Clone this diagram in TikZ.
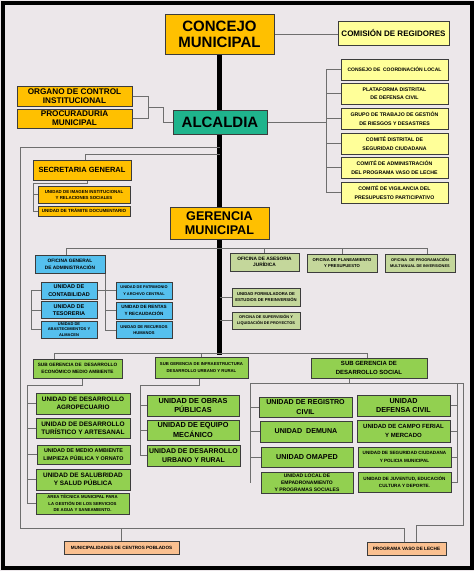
\documentclass[tikz,border=0pt]{standalone}
\usepackage{fontspec}
\setmainfont{Liberation Sans}
\usetikzlibrary{backgrounds}

\definecolor{bgpaper}{HTML}{ECE7EA}
\definecolor{boxline}{HTML}{3C3C3C}
\definecolor{linkgray}{HTML}{6E6E6E}
\definecolor{gold}{HTML}{FFC000}
\definecolor{paleyellow}{HTML}{FFFF99}
\definecolor{teal}{HTML}{1FB48C}
\definecolor{sky}{HTML}{55C0EE}
\definecolor{olive}{HTML}{C4D79B}
\definecolor{lime}{HTML}{92D050}
\definecolor{peach}{HTML}{FAC090}

\tikzset{
	box/.style={draw=boxline, line width=0.9pt, inner sep=0pt, align=center},
	wh/.style 2 args={minimum width=#1pt, minimum height=#2pt},
	sz/.style 2 args={font=\fontsize{#1}{#2}\selectfont\bfseries},
	link/.style={draw=linkgray, line width=0.8pt},
	spine/.style={draw=black, line width=4.3pt},
}

\begin{document}
\begin{tikzpicture}[x=1pt, y=-1pt]
	\useasboundingbox (0,0) rectangle (474,571);

	\node[box, fill=gold, wh={109}{40}, sz={15}{16}]		(concejo) at (219.5,34) {CONCEJO\\MUNICIPAL};
	\node[box, fill=paleyellow, wh={111}{24}, sz={8}{9}]	(comision) at (393.5,33) {COMISIÓN DE REGIDORES};

	\node[box, fill=paleyellow, wh={107}{21}, sz={5}{8}]		(coordlocal) at (394.5,69.5) {CONSEJO DE \ COORDINACIÓN LOCAL};
	\node[box, fill=paleyellow, wh={107}{21}, sz={5.2}{8.5}]	(plataforma) at (394.5,93.5) {PLATAFORMA DISTRITAL\\DE DEFENSA CIVIL};
	\node[box, fill=paleyellow, wh={107}{21}, sz={5.2}{8.5}]	(riesgos) at (394.5,118.5) {GRUPO DE TRABAJO DE GESTIÓN\\DE RIESGOS Y DESASTRES};
	\node[box, fill=paleyellow, wh={107}{21}, sz={5.2}{8.5}]	(comiteseg) at (394.5,143.5) {COMITÉ DISTRITAL DE\\SEGURIDAD CIUDADANA};
	\node[box, fill=paleyellow, wh={107}{21}, sz={5.2}{8.5}]	(comitevaso) at (394.5,167.5) {COMITÉ DE ADMINISTRACIÓN\\DEL PROGRAMA VASO DE LECHE};
	\node[box, fill=paleyellow, wh={107}{21}, sz={5.2}{8.5}]	(vigilancia) at (394.5,192.5) {COMITÉ DE VIGILANCIA DEL\\PRESUPUESTO PARTICIPATIVO};

	\node[box, fill=teal, wh={94}{24}, sz={15}{16}]		(alcaldia) at (220,122) {ALCALDIA};
	\node[box, fill=gold, wh={115}{20}, sz={8.2}{9}]		(organo) at (74.5,96) {ORGANO DE CONTROL\\INSTITUCIONAL};
	\node[box, fill=gold, wh={115}{19}, sz={8.2}{9}]		(procurad) at (74.5,118.5) {PROCURADURIA\\MUNICIPAL};

	\node[box, fill=gold, wh={98}{20}, sz={7.5}{8}]		(secretaria) at (82,170) {SECRETARIA GENERAL};
	\node[box, fill=gold, wh={92}{17}, sz={4.4}{6}]		(imagen) at (84,194.5) {UNIDAD DE IMAGEN INSTITUCIONAL\\Y RELACIONES SOCIALES};
	\node[box, fill=gold, wh={92}{10}, sz={4.5}{5}]		(tramite) at (84,211) {UNIDAD DE TRÁMITE DOCUMENTARIO};

	\node[box, fill=gold, wh={99}{32}, sz={12.6}{14}]		(gerencia) at (219.5,223) {GERENCIA\\MUNICIPAL};
	\node[box, fill=sky, wh={70}{18}, sz={4.8}{6.8}]		(ofadmin) at (70,264) {OFICINA GENERAL\\DE ADMINISTRACIÓN};
	\node[box, fill=olive, wh={69}{18}, sz={4.8}{6.5}]		(asesoria) at (264.5,262) {OFICINA DE ASESORIA\\JURÍDICA};
	\node[box, fill=olive, wh={70}{18}, sz={4.2}{6.5}]		(planeam) at (342,263) {OFICINA DE PLANEAMIENTO\\Y PRESUPUESTO};
	\node[box, fill=olive, wh={70}{18}, sz={3.9}{6}]		(pmi) at (420,263) {OFICINA \ DE PROGRAMACIÓN\\MULTIANUAL DE INVERSIONES};

	\node[box, fill=sky, wh={56}{17}, sz={5.5}{7.5}]		(contab) at (69,290.5) {UNIDAD DE\\CONTABILIDAD};
	\node[box, fill=sky, wh={56}{17}, sz={5.5}{7.5}]		(tesoreria) at (69,310) {UNIDAD DE\\TESORERIA};
	\node[box, fill=sky, wh={56}{17}, sz={4}{5.6}]		(abastec) at (69,329.5) {UNIDAD DE\\ABASTECIMIENTOS Y\\ALMACEN};
	\node[box, fill=sky, wh={56}{17}, sz={3.9}{6.5}]		(patrimonio) at (144,290.5) {UNIDAD DE PATRIMONIO\\Y ARCHIVO CENTRAL};
	\node[box, fill=sky, wh={56}{17}, sz={4.6}{6.8}]		(rentas) at (144,310.5) {UNIDAD DE RENTAS\\Y RECAUDACIÓN};
	\node[box, fill=sky, wh={56}{17}, sz={4.1}{6.5}]		(rrhh) at (144,330) {UNIDAD DE RECURSOS\\HUMANOS};

	\node[box, fill=olive, wh={68}{18}, sz={4.2}{6}]		(formuladora) at (266,297) {UNIDAD FORMULADORA DE\\ESTUDIOS DE PREINVERSIÓN};
	\node[box, fill=olive, wh={68}{17}, sz={3.9}{6}]		(supervision) at (266,320.5) {OFICINA DE SUPERVISIÓN Y\\LIQUIDACIÓN DE PROYECTOS};

	\node[box, fill=lime, wh={89}{19}, sz={4.7}{7.5}]		(sgeco) at (77.5,368.5) {SUB GERENCIA DE \ DESARROLLO\\ECONÓMICO MEDIO AMBIENTE};
	\node[box, fill=lime, wh={93}{21}, sz={4.25}{6.8}]		(sginfra) at (201.5,367.5) {SUB GERENCIA DE INFRAESTRUCTURA\\DESARROLLO URBANO Y RURAL};
	\node[box, fill=lime, wh={116}{20}, sz={6}{9}]		(sgsocial) at (369,368) {SUB GERENCIA DE\\DESARROLLO SOCIAL};

	\node[box, fill=lime, wh={94}{21}, sz={6.4}{8.3}]		(agropec) at (83,403.5) {UNIDAD DE DESARROLLO\\AGROPECUARIO};
	\node[box, fill=lime, wh={94}{20}, sz={6.5}{8.3}]		(turismo) at (83,428) {UNIDAD DE DESARROLLO\\TURÍSTICO Y ARTESANAL};
	\node[box, fill=lime, wh={93}{19}, sz={5.4}{8.3}]		(medioamb) at (83.5,454.5) {UNIDAD DE MEDIO AMBIENTE\\LIMPIEZA PÚBLICA Y ORNATO};
	\node[box, fill=lime, wh={94}{21}, sz={6.4}{8.5}]		(salubridad) at (83,479.5) {UNIDAD DE SALUBRIDAD\\Y SALUD PÚBLICA};
	\node[box, fill=lime, wh={93}{21}, sz={4.3}{6.6}]		(aguasan) at (82.5,503.5) {AREA TÉCNICA MUNICIPAL PARA\\LA GESTIÓN DE LOS SERVICIOS\\DE AGUA Y SANEAMIENTO.};

	\node[box, fill=lime, wh={92}{21}, sz={7.3}{9.3}]		(obras) at (193,405.5) {UNIDAD DE OBRAS\\PÚBLICAS};
	\node[box, fill=lime, wh={92}{20}, sz={7.3}{9.3}]		(equipo) at (193,430) {UNIDAD DE EQUIPO\\MECÁNICO};
	\node[box, fill=lime, wh={93}{21}, sz={6.9}{9.3}]		(urbrural) at (193.5,455.5) {UNIDAD DE DESARROLLO\\URBANO Y RURAL};

	\node[box, fill=lime, wh={93}{20}, sz={7.1}{9.3}]		(registro) at (305.5,407) {UNIDAD DE REGISTRO\\CIVIL};
	\node[box, fill=lime, wh={92}{21}, sz={7.1}{9}]		(demuna) at (306,431.5) {UNIDAD \ DEMUNA};
	\node[box, fill=lime, wh={92}{20}, sz={7.2}{9}]		(omaped) at (307,457) {UNIDAD OMAPED};
	\node[box, fill=lime, wh={92}{21}, sz={5}{6.8}]		(empadron) at (307,482.5) {UNIDAD LOCAL DE\\EMPADRONAMIENTO\\Y PROGRAMAS SOCIALES};
	\node[box, fill=lime, wh={93}{21}, sz={7.2}{9.3}]		(defcivil) at (403.5,405.5) {UNIDAD\\DEFENSA CIVIL};
	\node[box, fill=lime, wh={93}{22}, sz={6}{8.5}]		(campoferial) at (403.5,431) {UNIDAD DE CAMPO FERIAL\\Y MERCADO};
	\node[box, fill=lime, wh={93}{20}, sz={4.6}{7.7}]		(segciud) at (404.5,457) {UNIDAD DE SEGURIDAD CIUDADANA\\Y POLICIA MUNICIPAL};
	\node[box, fill=lime, wh={93}{20}, sz={4.6}{7.5}]		(juventud) at (404.5,482) {UNIDAD DE JUVENTUD, EDUCACIÓN\\CULTURA Y DEPORTE.};

	\node[box, fill=peach, wh={115}{13}, sz={4.6}{5}]		(ccpp) at (121.5,547.5) {MUNICIPALIDADES DE CENTROS POBLADOS};
	\node[box, fill=peach, wh={79}{13}, sz={4.7}{5}]		(vasoleche) at (406.5,548.5) {PROGRAMA VASO DE LECHE};

	\coordinate (obus) at (148,107);
	\coordinate (cbus) at (326,122);
	\coordinate (ftl) at (20,147);
	\coordinate (fbl) at (20,528);
	\coordinate (fbr) at (404,528);
	\coordinate (sectop) at (85,154);
	\coordinate (secbus) at (33,183);
	\coordinate (gl) at (66,248);
	\coordinate (gr) at (427,248);
	\coordinate (abus) at (31,290.5);
	\coordinate (sgl) at (54,353);
	\coordinate (sgr) at (367,353);
	\coordinate (spinebot) at (219.5,355);
	\coordinate (ebus) at (27,385);
	\coordinate (ibus) at (140,385);
	\coordinate (sbus) at (250,383);
	\coordinate (rbus) at (457,383);
	\coordinate (obr) at (463,383);
	\coordinate (obb) at (416,525);

	\begin{pgfonlayer}{background}
		\fill[bgpaper] (0,0) rectangle (474,571);
		\draw[line width=4pt] (2.5,3) rectangle (471.5,567.5);

		\draw[spine] (concejo.south) -- (spinebot);

		\draw[link] (concejo.east) -- (concejo.east -| comision.west);
		\draw[link] (alcaldia.east) -- (cbus);
		\draw[link] (cbus |- coordlocal.west) -- (cbus |- vigilancia.west);
		\foreach \n in {coordlocal,plataforma,riesgos,comiteseg,comitevaso,vigilancia}
			\draw[link] (cbus |- \n.west) -- (\n.west);

		\draw[link] (organo.east) -| (obus);
		\draw[link] (procurad.east) -| (obus);
		\draw[link] (obus) -- (163,107) |- (alcaldia.west);

		\draw[link] (ftl -| concejo.south) -- (ftl) -- (fbl) -- (fbr) -- (fbr |- vasoleche.north);
		\draw[link] (ccpp.north) -- (ccpp.north |- fbl);

		\draw[link] (sectop -| concejo.south) -- (sectop) -- (sectop |- secretaria.north);
		\draw[link] ([xshift=5pt]secretaria.south) |- (secbus) -- (secbus |- tramite.west) -- (tramite.west);
		\draw[link] (secbus |- imagen.west) -- (imagen.west);

		\draw[link] (gl |- ofadmin.north) -- (gl) -- (gr) -- (gr |- pmi.north);
		\foreach \n in {asesoria,planeam}
			\draw[link] (\n.north) -- (\n.north |- gl);

		\draw[link] (ofadmin.south east) -- (ofadmin.south east |- rrhh.west) -- (rrhh.west);
		\foreach \n in {patrimonio,rentas}
			\draw[link] (ofadmin.south east |- \n.west) -- (\n.west);
		\draw[link] (abus) -- (patrimonio.west);
		\draw[link] (abus) -- (abus |- abastec.west) -- (abastec.west);
		\draw[link] (abus |- tesoreria.west) -- (tesoreria.west);

		\foreach \n in {formuladora,supervision}
			\draw[link] (\n.west -| concejo.south) -- (\n.west);

		\draw[link] (sgl |- sgeco.north) -- (sgl) -- (sgr) -- (sgr |- sgsocial.north);
		\draw[link] (sginfra.north) -- (sginfra.north |- sgl);

		\draw[link] ([xshift=4.5pt]sgeco.south) |- (ebus) -- (ebus |- aguasan.west) -- (aguasan.west);
		\foreach \n in {agropec,turismo,medioamb,salubridad}
			\draw[link] (ebus |- \n.west) -- (\n.west);

		\draw[link] ([xshift=-2pt]sginfra.south) |- (ibus) -- (ibus |- urbrural.west) -- (urbrural.west);
		\foreach \n in {obras,equipo}
			\draw[link] (ibus |- \n.west) -- (\n.west);

		\draw[link] ([xshift=-20pt]sgsocial.south) -- ([xshift=-20pt]sgsocial.south |- sbus);
		\draw[link] (sbus |- empadron.west) -- (sbus) -- (obr) -- (obr |- obb) -- (obb) -- (obb |- vasoleche.north);
		\foreach \n in {registro,demuna,omaped}
			\draw[link] (sbus |- \n.west) -- (\n.west);
		\draw[link] (rbus) -- (rbus |- juventud.east) -- (juventud.east);
		\foreach \n in {defcivil,campoferial,segciud}
			\draw[link] (rbus |- \n.east) -- (\n.east);
	\end{pgfonlayer}
\end{tikzpicture}
\end{document}
